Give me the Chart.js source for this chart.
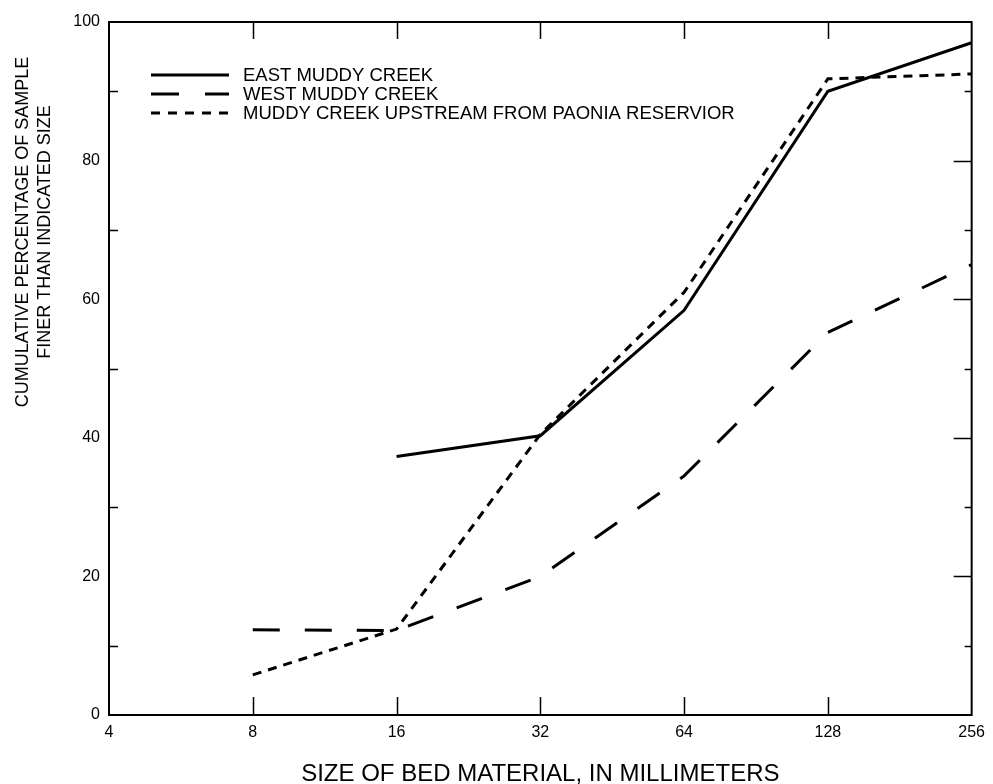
<!DOCTYPE html>
<html>
<head>
<meta charset="utf-8">
<script src="https://cdn.jsdelivr.net/npm/chart.js@4.4.1/dist/chart.umd.min.js"></script>
<style>
  html, body { margin: 0; padding: 0; background: #fff; }
  #wrap { width: 993px; height: 784px; }
</style>
</head>
<body>
<div id="wrap"><canvas id="chart" width="993" height="784"></canvas></div>
<script>
// tamaños de material (mm) y porcentajes acumulados
const sizes = [8, 16, 32, 64, 128, 256];
const xTicks = [4, 8, 16, 32, 64, 128, 256];
const yTicks = [0, 20, 40, 60, 80, 100];

const eastMuddy = [null, 37.3, 40.3, 58.4, 90.0, 97.0];
const westMuddy = [12.3, 12.2, 20.0, 34.5, 55.2, 65.0];
const upstreamPaonia = [5.8, 12.4, 40.5, 61.0, 91.8, 92.5];

const seriesNames = ['EAST MUDDY CREEK', 'WEST MUDDY CREEK', 'MUDDY CREEK UPSTREAM FROM PAONIA RESERVIOR'];
const yTitleLines = ['CUMULATIVE PERCENTAGE OF SAMPLE', 'FINER THAN INDICATED SIZE'];

const FONT = 'Arial, "Liberation Sans", Helvetica, sans-serif';

function toPoints(vals) {
    return sizes.map((s, i) => ({ x: s, y: vals[i] }));
}

// marco, marcas interiores, leyenda y título del eje Y
const framePlugin = {
    id: 'frame',
    afterDatasetsDraw(chart) {
        const ctx = chart.ctx;
        const a = chart.chartArea;
        const xs = chart.scales.x;
        const ys = chart.scales.y;
        ctx.save();
        ctx.strokeStyle = '#000';
        ctx.lineWidth = 2;
        ctx.setLineDash([]);
        ctx.strokeRect(a.left, a.top, a.right - a.left, a.bottom - a.top);

        ctx.lineWidth = 1.5;
        ctx.beginPath();
        [8, 16, 32, 64, 128].forEach(v => {
            const px = Math.round(xs.getPixelForValue(v)) + 0.5;
            ctx.moveTo(px, a.bottom); ctx.lineTo(px, a.bottom - 18);
            ctx.moveTo(px, a.top); ctx.lineTo(px, a.top + 17);
        });
        [20, 40, 60, 80].forEach(v => {
            const py = Math.round(ys.getPixelForValue(v)) + 0.5;
            ctx.moveTo(a.right, py); ctx.lineTo(a.right - 18, py);
        });
        [10, 30, 50, 70, 90].forEach(v => {
            const py = Math.round(ys.getPixelForValue(v)) + 0.5;
            ctx.moveTo(a.right, py); ctx.lineTo(a.right - 7, py);
            ctx.moveTo(a.left, py); ctx.lineTo(a.left + 9, py);
        });
        ctx.stroke();

        // leyenda
        const rows = [75, 94, 113];
        ctx.font = '18.5px ' + FONT;
        ctx.fillStyle = '#000';
        ctx.textBaseline = 'middle';
        chart.data.datasets.forEach((ds, i) => {
            ctx.beginPath();
            ctx.lineWidth = 3;
            ctx.setLineDash(ds.legendDash || []);
            ctx.moveTo(151, rows[i]);
            ctx.lineTo(229, rows[i]);
            ctx.stroke();
            ctx.setLineDash([]);
            ctx.fillText(ds.label, 243, rows[i] + 1);
        });

        // título del eje Y (dos líneas, desplazado hacia arriba como en el original)
        ctx.font = '18px ' + FONT;
        ctx.textAlign = 'center';
        ctx.translate(23, 232);
        ctx.rotate(-Math.PI / 2);
        ctx.fillText(yTitleLines[0], 0, 0);
        ctx.fillText(yTitleLines[1], 0, 22);
        ctx.restore();
    }
};

new Chart(document.getElementById('chart'), {
    type: 'line',
    data: {
        datasets: [
            {
                label: seriesNames[0],
                data: toPoints(eastMuddy),
                borderColor: '#000',
                borderWidth: 3,
                legendDash: []
            },
            {
                label: seriesNames[1],
                data: toPoints(westMuddy),
                borderColor: '#000',
                borderWidth: 3,
                borderDash: [27, 25],
                legendDash: [28, 26]
            },
            {
                label: seriesNames[2],
                data: toPoints(upstreamPaonia),
                borderColor: '#000',
                borderWidth: 3,
                borderDash: [9, 7],
                legendDash: [9, 8]
            }
        ]
    },
    options: {
        responsive: false,
        animation: false,
        events: [],
        layout: { padding: { top: 22, right: 20, left: 0, bottom: 0 } },
        elements: {
            point: { radius: 0 },
            line: { tension: 0, fill: false, borderCapStyle: 'butt' }
        },
        scales: {
            x: {
                type: 'logarithmic',
                min: 4,
                max: 256,
                afterBuildTicks: s => { s.ticks = xTicks.map(v => ({ value: v })); },
                afterFit: s => { s.height = 69; },
                grid: { display: false, drawTicks: false },
                border: { display: false },
                ticks: {
                    color: '#000',
                    font: { family: FONT, size: 16 },
                    padding: 8,
                    maxRotation: 0,
                    autoSkip: false,
                    callback: v => String(v)
                },
                title: {
                    display: true,
                    text: 'SIZE OF BED MATERIAL, IN MILLIMETERS',
                    color: '#000',
                    font: { family: FONT, size: 24 },
                    padding: { top: 0, bottom: -5 }
                }
            },
            y: {
                min: 0,
                max: 100,
                afterBuildTicks: s => { s.ticks = yTicks.map(v => ({ value: v })); },
                afterFit: s => { s.width = 109; },
                grid: { display: false, drawTicks: false },
                border: { display: false },
                ticks: {
                    color: '#000',
                    font: { family: FONT, size: 16 },
                    padding: 9
                },
                title: { display: false }
            }
        },
        plugins: {
            legend: { display: false },
            tooltip: { enabled: false }
        }
    },
    plugins: [framePlugin]
});
</script>
</body>
</html>
